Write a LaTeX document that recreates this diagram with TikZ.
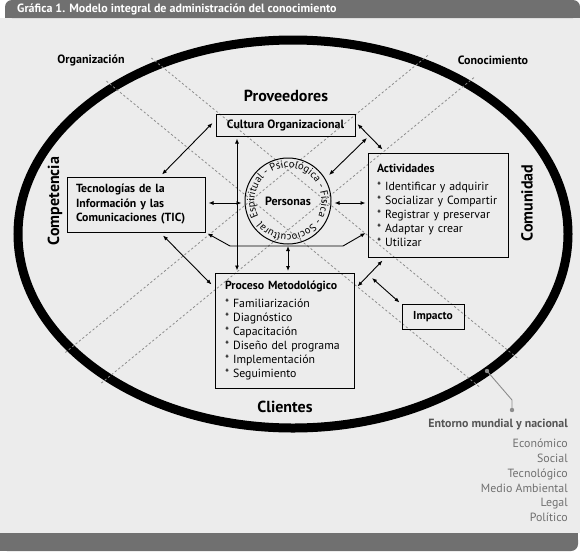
\documentclass[tikz,border=0pt]{standalone}
\usepackage{fontspec}
\setmainfont{PT Sans}
\usetikzlibrary{arrows.meta,calc,decorations.text}
\definecolor{bg}{HTML}{ECECEC}
\definecolor{bar}{HTML}{707070}
\definecolor{dashc}{HTML}{8C8C8C}
\definecolor{greytxt}{HTML}{707070}
\definecolor{greyhead}{HTML}{555555}
\begin{document}
\begin{tikzpicture}[x=1pt,y=-1pt,
  lab/.style={font=\bfseries\fontsize{12}{14}\selectfont},
  big/.style={font=\bfseries\fontsize{16}{18}\selectfont},
  box/.style={draw,line width=1pt,inner sep=0pt},
  dbl/.style={{Latex[length=5pt,width=4pt]}-{Latex[length=5pt,width=4pt]},line width=0.9pt},
  dashln/.style={dashc,line width=0.8pt,dash pattern=on 2.2pt off 2.2pt},
  entl/.style={anchor=base east,inner sep=0pt,text=greytxt,font=\fontsize{11.9}{13}\selectfont}]
\useasboundingbox (0,0) rectangle (580,552);
\fill[white] (0,0) rectangle (580,552);
\fill[bg] (0,18) rectangle (580,533);
% header and footer bars
\fill[bar,rounded corners=7pt] (5,0) rectangle (580,18);
\fill[bar] (5,10) rectangle (580,18);
\fill[bar,rounded corners=7pt] (0,533) rectangle (578,551);
\fill[bar] (0,533) rectangle (570,551);
\fill[bar] (0,533) rectangle (578,541);
\node[anchor=west,inner sep=0pt,text=white,font=\bfseries\fontsize{12}{13}\selectfont] (title) at (17,9) {Gráfica 1. Modelo integral de administración del conocimiento};
% ring
\draw[line width=9pt] (293,234) ellipse [x radius=275pt, y radius=194pt];
% dashed lines
\coordinate (a1) at (151.4,58.0);  \coordinate (a2) at (517.6,358.3);
\coordinate (b1) at (106.4,81.1);  \coordinate (b2) at (479.6,387.0);
\coordinate (c1) at (427.8,55.4);  \coordinate (c2) at (63.8,353.8);
\coordinate (d1) at (473.9,77.6);  \coordinate (d2) at (100.8,383.5);
\draw[dashln] (a1) -- (a2);
\draw[dashln] (b1) -- (b2);
\draw[dashln] (c1) -- (c2);
\draw[dashln] (d1) -- (d2);
% outer labels
\node[lab] (org) at (91,60) {Organización};
\node[lab] (con) at (493,60) {Conocimiento};
\node[big] (prov) at (286,96) {Proveedores};
\node[big] (cli) at (285,407) {Clientes};
\node[big,rotate=90] (comp) at (55,201) {Competencia};
\node[big,rotate=90] (comu) at (527,203) {Comunidad};
% boxes
\node[box,minimum width=139pt,minimum height=22pt,lab] (cult) at (285.5,125) {Cultura Organizacional};
\node[box,minimum width=138pt,minimum height=55pt,text width=120pt,inner xsep=9pt,align=left,font=\bfseries\fontsize{11.8}{14.5}\selectfont] (tic) at (136,204.5) {Tecnologías de la\\Información y las\\Comunicaciones (TIC)};
\node[box,minimum width=140pt,minimum height=104pt,text width=122pt,inner xsep=9pt,align=left,font=\fontsize{11.8}{14}\selectfont] (act) at (438,205) {\textbf{Actividades}\\[4pt]{*} Identificar y adquirir\\{*} Socializar y Compartir\\{*} Registrar y preservar\\{*} Adaptar y crear\\{*} Utilizar};
\node[box,minimum width=139pt,minimum height=115pt,text width=119pt,inner xsep=10pt,align=left,font=\fontsize{11.8}{14}\selectfont] (proc) at (284.5,330.5) {\textbf{Proceso Metodológico}\\[4pt]{*} Familiarización\\{*} Diagnóstico\\{*} Capacitación\\{*} Diseño del programa\\{*} Implementación\\{*} Seguimiento};
\node[box,minimum width=62pt,minimum height=25pt,font=\bfseries\fontsize{11.5}{13}\selectfont] (imp) at (433,316.5) {Impacto};
% personas circle
\node[circle,draw,line width=1pt,minimum size=86pt,inner sep=0pt,lab] (pers) at (288,201) {Personas};
\begin{scope}[shift={(288,201)},x=1pt,y=1pt]
\path[decorate,decoration={text along path,text align=left,
  text={|\fontsize{10.5}{11}\selectfont|Espiritual - Psicológica - Física - Sociocultural -}}]
  (208:33.5pt) arc[start angle=208,end angle=-150,radius=33.5pt];
\end{scope}
% free ends
\coordinate (f5) at (367,138);
\coordinate (f11) at (372,278);
% connectors
\draw[dbl] ($(cult.west)+(-3,-2)$) -- ($(tic.north)+(26,-2)$);
\draw[dbl] ($(cult.south west)+(21.5,2)$) -- ($(proc.north west)+(22.5,-2)$);
\draw[dbl] ($(tic.east)+(3,-1.5)$) -- ($(pers.west)+(-3,2)$);
\draw[dbl] ($(pers.east)+(3,2)$) -- ($(act.west)+(-2,-2)$);
\draw[dbl] ($(pers.center)+(41,-26)$) -- (f5);
\draw[dbl] ($(cult.east)+(2,-1)$) -- ($(act.north west)+(15,-3)$);
\draw[dbl] ($(pers.south)+(0,1.5)$) -- ($(proc.north)+(3.5,-1.5)$);
\draw[dbl] ($(tic.south)+(27,3)$) -- ($(proc.north west)+(-3,12)$);
\draw[dbl] ($(tic.south east)+(2,1)$) -- (230,246) -- (343,246) -- ($(act.west)+(-2,28)$);
\draw[dbl] ($(proc.north east)+(3,14)$) -- ($(act.south west)+(15,3)$);
\draw[dbl] (f11) -- ($(imp.north west)+(-2,-1)$);
% leader to entorno
\coordinate (ld1) at (487,371);
\coordinate (ld2) at (512,400);
\coordinate (ld3) at (512,410);
\draw[dashc,line width=0.9pt] (ld1) -- (ld2) -- (ld3);
\fill[dashc] (ld1) circle (2.2pt);
\fill[dashc] (ld3) circle (2.2pt);
\node[anchor=base east,inner sep=0pt,text=greyhead,font=\bfseries\fontsize{11.9}{13}\selectfont] (ent) at (568,427) {Entorno mundial y nacional};
\node[entl] (e1) at (568,447) {Económico};
\node[entl] (e2) at (568,462.5) {Social};
\node[entl] (e3) at (568,477.5) {Tecnológico};
\node[entl] (e4) at (568,492) {Medio Ambiental};
\node[entl] (e5) at (568,506) {Legal};
\node[entl] (e6) at (568,521) {Político};
\end{tikzpicture}
\end{document}
